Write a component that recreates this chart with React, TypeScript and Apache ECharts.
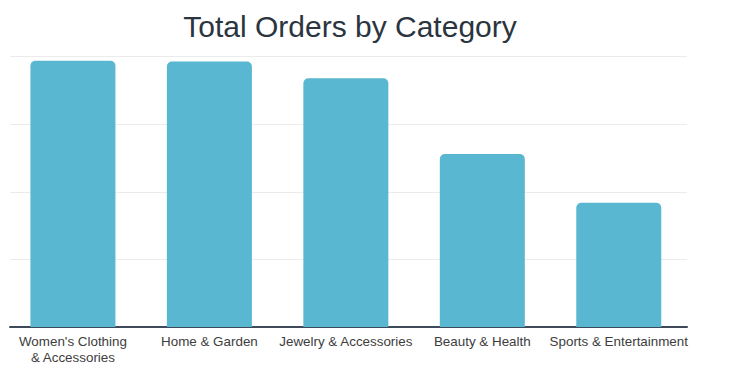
import React, { useEffect, useRef } from "react";
import * as echarts from "echarts";

const categories = [
  "Women's Clothing\n& Accessories",
  "Home & Garden",
  "Jewelry & Accessories",
  "Beauty & Health",
  "Sports & Entertainment",
];
const orders = [394, 393, 368, 256, 184];
const yMin = 0;
const yMax = 400;
const yInterval = 100;

export default function App() {
  const ref = useRef<HTMLDivElement>(null);
  useEffect(() => {
    document.body.style.margin = "0";
    const chart = echarts.init(ref.current!, null, { renderer: "svg" });
    chart.setOption({
      animation: false,
      backgroundColor: "#ffffff",
      title: {
        text: "Total Orders by Category",
        left: 345,
        textAlign: "center",
        top: 6,
        textStyle: {
          fontFamily: "Liberation Sans, Arial, sans-serif",
          fontSize: 30,
          fontWeight: "normal",
          color: "#2b3540",
        },
      },
      grid: [
        { left: 10, right: 58, top: 56.7, bottom: 51 },
        { left: 4.7, right: 58, top: 56.7, bottom: 51 },
      ],
      xAxis: [
        {
          gridIndex: 0,
          type: "value",
          min: 0,
          max: 1,
          axisLine: { show: true, lineStyle: { color: "#3e4a5a", width: 2 } },
          axisTick: { show: false },
          axisLabel: { show: false },
          splitLine: { show: false },
        },
        {
          gridIndex: 1,
          type: "category",
          data: categories,
          axisLine: { show: false },
          axisTick: { show: false },
          axisLabel: {
            margin: 6,
            fontFamily: "Liberation Sans, Arial, sans-serif",
            fontSize: 13.4,
            color: "#3d3d3d",
            lineHeight: 16,
            interval: 0,
          },
        },
      ],
      yAxis: [
        {
          gridIndex: 0,
          type: "value",
          min: yMin,
          max: yMax,
          interval: yInterval,
          axisLine: { show: false },
          axisTick: { show: false },
          axisLabel: { show: false },
          splitLine: { show: true, lineStyle: { color: "#ebebeb", width: 1 } },
        },
        {
          gridIndex: 1,
          type: "value",
          min: yMin,
          max: yMax,
          interval: yInterval,
          axisLine: { show: false },
          axisTick: { show: false },
          axisLabel: { show: false },
          splitLine: { show: false },
        },
      ],
      series: [
        {
          type: "bar",
          xAxisIndex: 1,
          yAxisIndex: 1,
          data: orders,
          barWidth: 85,
          itemStyle: { color: "#5ab7d1", borderRadius: [5, 5, 0, 0] },
          z: 1,
        },
      ],
    });
    return () => chart.dispose();
  }, []);
  return <div ref={ref} style={{ width: 745, height: 378 }} />;
}
